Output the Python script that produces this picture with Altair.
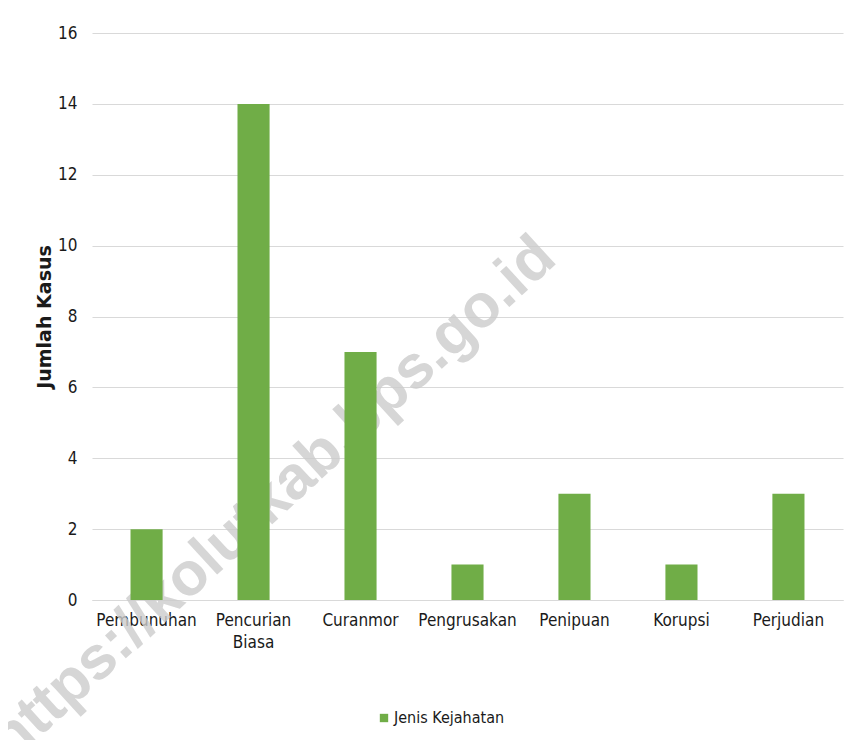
import altair as alt
import pandas as pd

categories = ["Pembunuhan", "Pencurian Biasa", "Curanmor", "Pengrusakan",
              "Penipuan", "Korupsi", "Perjudian"]
values = [2, 14, 7, 1, 3, 1, 3]
series_name = "Jenis Kejahatan"
y_ticks = [0, 2, 4, 6, 8, 10, 12, 14, 16]
y_title = "Jumlah Kasus"
watermark = "https://kolutkab.bps.go.id"

df = pd.DataFrame({"Jenis": categories, "Jumlah": values,
                   "Seri": [series_name] * len(categories)})

FONT = "'DejaVu Sans Condensed', 'Liberation Sans Narrow', 'Liberation Sans', sans-serif"
GREEN = "#70AD47"
TEXT = "#1a1a1a"
GRID = "#d9d9d9"

W, H = 751, 567

bars = alt.Chart(df).mark_bar(color=GREEN).encode(
    x=alt.X("Jenis:N", sort=categories,
            scale=alt.Scale(paddingInner=0.7, paddingOuter=0.36),
            axis=alt.Axis(title=None, labelAngle=0,
                          labelExpr="split(datum.label, ' ')",
                          ticks=False, domainColor=GRID, domainWidth=1,
                          labelFont=FONT, labelFontSize=17, labelColor=TEXT,
                          labelPadding=12, labelLineHeight=22)),
    y=alt.Y("Jumlah:Q", scale=alt.Scale(domain=[0, 16], nice=False),
            axis=alt.Axis(values=y_ticks, title=y_title, domain=False,
                          ticks=False, gridColor=GRID, gridWidth=1,
                          labelFont=FONT, labelFontSize=17, labelColor=TEXT,
                          labelPadding=15,
                          titleFont="DejaVu Sans", titleFontWeight="bold",
                          titleFontSize=19, titleColor=TEXT, titlePadding=3)),
    color=alt.Color("Seri:N", scale=alt.Scale(range=[GREEN]),
                    legend=alt.Legend(title=None, orient="none",
                                      legendX=284, legendY=677,
                                      symbolType="square", symbolSize=70,
                                      symbolStrokeWidth=0,
                                      labelFont=FONT, labelFontSize=16,
                                      labelColor=TEXT, labelOffset=2)),
)

wm = alt.Chart(pd.DataFrame({"t": [watermark]})).mark_text(
    font="Liberation Sans", fontWeight="bold", fontSize=61,
    color="#cccccc", opacity=0.8, angle=317.5, align="center",
    baseline="middle",
).encode(text="t:N", x=alt.value(181), y=alt.value(466))

chart = alt.layer(wm, bars).properties(
    width=W, height=H,
    background="white",
    autosize=alt.AutoSizeParams(type="none"),
    padding={"left": 84, "top": 25, "right": 10, "bottom": 140},
).configure_view(stroke=None)

chart.save("out.html", embed_options={"renderer": "svg", "actions": False})
